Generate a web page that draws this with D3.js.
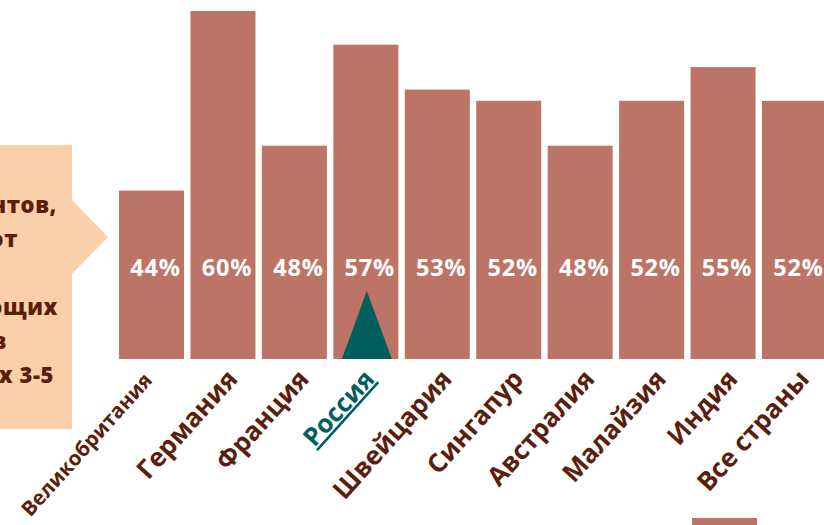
<!DOCTYPE html>
<html lang="ru">
<head>
<meta charset="utf-8">
<script src="https://cdn.jsdelivr.net/npm/d3@7"></script>
<style>
  html, body { margin: 0; padding: 0; background: #ffffff; }
  svg { display: block; }
</style>
</head>
<body>
<svg id="chart" width="824" height="525"></svg>
<script>
// Countries and the share of respondents for each
const countries = ["Великобритания", "Германия", "Франция", "Россия", "Швейцария",
                   "Сингапур", "Австралия", "Малайзия", "Индия", "Все страны"];
const shares = [44, 60, 48, 57, 53, 52, 48, 52, 55, 52];
const valueLabels = ["44%", "60%", "48%", "57%", "53%", "52%", "48%", "52%", "55%", "52%"];
const highlight = "Россия";

// Callout text lines (the box runs off the left edge of the page)
const calloutLines = ["Доля респондентов,", "ожидающих от", "", "управляющих", "активами в", "ближайших 3-5"];

const BAR = "#bb7465";
const TEAL = "#005f5e";
const BROWN = "#5b1e0c";
const PEACH = "#fad0ab";
const FONT = "'Open Sans', 'DejaVu Sans', sans-serif";

const svg = d3.select("#chart");

const x = d3.scaleBand()
  .domain(countries)
  .range([119, 827])
  .paddingInner(0.09)
  .paddingOuter(0);

const y = d3.scaleLinear()
  .domain([29, 60])
  .range([359, 11]);

// Callout box with a pointer towards the first bar
const callout = svg.append("g");
callout.append("rect")
  .attr("x", -10).attr("y", 145)
  .attr("width", 82).attr("height", 284)
  .attr("fill", PEACH);
callout.append("path")
  .attr("d", "M72,200 L108,237 L72,274 Z")
  .attr("fill", PEACH);
const lineEnds = [57, 18, -6, 58, 7, 54];
callout.selectAll("text")
  .data(calloutLines)
  .join("text")
  .attr("x", (d, i) => lineEnds[i])
  .attr("y", (d, i) => 213 + i * 34)
  .attr("text-anchor", "end")
  .attr("font-family", FONT)
  .attr("font-weight", 800)
  .attr("font-size", 22)
  .attr("letter-spacing", 0.6)
  .attr("fill", BROWN)
  .text(d => d);

// Bars
svg.append("g")
  .selectAll("rect")
  .data(countries)
  .join("rect")
  .attr("x", d => x(d))
  .attr("y", (d, i) => y(shares[i]))
  .attr("width", x.bandwidth())
  .attr("height", (d, i) => y.range()[0] - y(shares[i]))
  .attr("fill", BAR);

// Value labels inside the bars
svg.append("g")
  .selectAll("text")
  .data(countries)
  .join("text")
  .attr("x", d => x(d) + x.bandwidth() / 2 + 4)
  .attr("y", 276)
  .attr("text-anchor", "middle")
  .attr("font-family", FONT)
  .attr("font-weight", 700)
  .attr("font-size", 23.5)
  .attr("letter-spacing", 0.8)
  .attr("fill", "#ffffff")
  .text((d, i) => valueLabels[i]);

// Marker for the highlighted country
const hx = x(highlight) + x.bandwidth() / 2 + 1;
const base = y.range()[0];
svg.append("path")
  .attr("d", `M${hx - 25},${base} L${hx},${base - 68} L${hx + 25},${base} Z`)
  .attr("fill", TEAL);

// Rotated category labels
function labelStyle(name) {
  if (name === highlight) return { size: 25.5, dx: 10, dy: 380, color: TEAL };
  if (name.length > 12) return { size: 20.5, dx: 2, dy: 381, color: BROWN };
  return { size: 26, dx: 16, dy: 380, color: BROWN };
}
const labels = svg.append("g")
  .selectAll("g")
  .data(countries)
  .join("g")
  .attr("transform", d => {
    const s = labelStyle(d);
    return `translate(${x(d) + x.bandwidth() / 2 + s.dx},${s.dy}) rotate(-48)`;
  });
labels.append("text")
  .attr("text-anchor", "end")
  .attr("font-family", FONT)
  .attr("font-weight", 700)
  .attr("font-size", d => labelStyle(d).size)
  .attr("fill", d => labelStyle(d).color)
  .attr("text-decoration", d => d === highlight ? "underline" : null)
  .text(d => d);

// Legend swatch at the bottom
svg.append("rect")
  .attr("x", 692).attr("y", 518)
  .attr("width", 65).attr("height", 10)
  .attr("fill", BAR);
</script>
</body>
</html>
